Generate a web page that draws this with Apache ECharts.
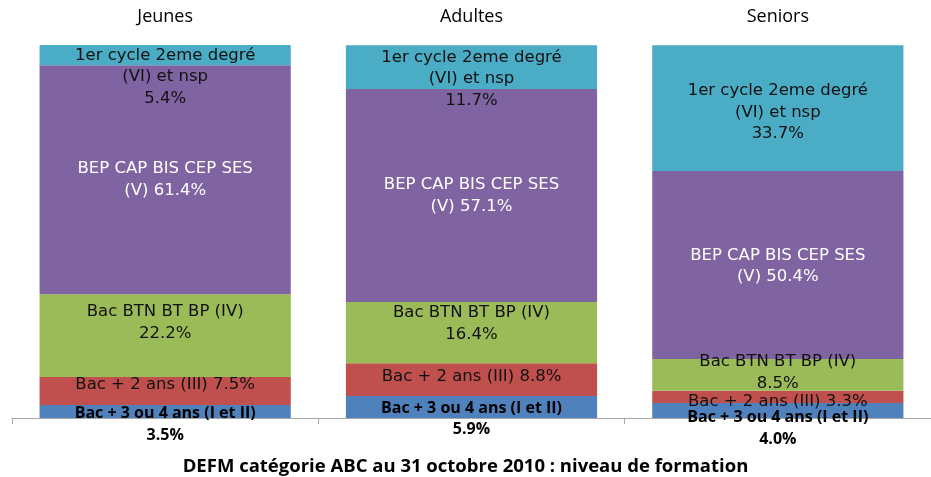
<!DOCTYPE html>
<html>
<head>
<meta charset="utf-8">
<script src="https://cdn.jsdelivr.net/npm/echarts@6/dist/echarts.min.js"></script>
<style>
  html, body { margin: 0; padding: 0; background: #fff; }
  #main { width: 931px; height: 477px; }
</style>
</head>
<body>
<div id="main"></div>
<script>
// groupes d'age
var categories = ['Jeunes', 'Adultes', 'Seniors'];

// niveaux de formation (du bas vers le haut), en %
var bac34 = [3.5, 5.9, 4.0];
var bac2 = [7.5, 8.8, 3.3];
var bacIV = [22.2, 16.4, 8.5];
var bepV = [61.4, 57.1, 50.4];
var cycleVI = [5.4, 11.7, 33.7];

var titleText = 'DEFM catégorie ABC au 31 octobre 2010 : niveau de formation';

// decalage vertical des etiquettes (comme dans Excel)
var labelShift = {
  bac34: [13, 12, 18],
  bac2: [-6, -3, 5],
  bacIV: [-13, -9, -2],
  bepV: [0, 0, 1],
  cycleVI: [22, 12, 4]
};

var FONT = 'Open Sans';
var LABEL_FONT = 'DejaVu Sans';

function fmt(v) { return v.toFixed(1) + '%'; }

function makeData(values, shifts) {
  return values.map(function (v, i) {
    return { value: v, label: { offset: [0, shifts[i]] } };
  });
}

function serie(name, values, shifts, color, textColor, formatter, bold) {
  return {
    name: name,
    type: 'bar',
    stack: 'total',
    xAxisIndex: 0,
    barCategoryGap: '18%',
    itemStyle: { color: color },
    label: {
      show: true,
      position: 'inside',
      color: textColor,
      fontFamily: bold ? FONT : LABEL_FONT,
      fontSize: bold ? 16 : 16.5,
      fontWeight: bold ? 'bold' : 'normal',
      lineHeight: 21.5,
      formatter: function (p) { return formatter(p.value); }
    },
    data: makeData(values, shifts)
  };
}

var myChart = echarts.init(document.getElementById('main'));
myChart.setOption({
  animation: false,
  title: {
    text: titleText,
    left: 'center',
    top: 452,
    textStyle: { fontFamily: FONT, fontSize: 18.5, fontWeight: 'bold', color: '#000' }
  },
  grid: { left: 12, width: 924, top: 45, bottom: 59 },
  xAxis: [
    {
      type: 'category',
      position: 'top',
      data: categories,
      axisLine: { show: false },
      axisTick: { show: false },
      axisLabel: { margin: 19, fontFamily: FONT, fontSize: 18, color: '#000' }
    },
    {
      type: 'category',
      position: 'bottom',
      data: categories,
      axisLine: { show: true, lineStyle: { color: '#a6a6a6', width: 1 } },
      axisTick: { show: true, length: 6, lineStyle: { color: '#a6a6a6' } },
      axisLabel: { show: false }
    }
  ],
  yAxis: { type: 'value', min: 0, max: 100, show: false },
  series: [
    serie('Bac + 3 ou 4 ans (I et II)', bac34, labelShift.bac34, '#4F81BD', '#000',
      function (v) { return 'Bac + 3 ou 4 ans (I et II)\n' + fmt(v); }, true),
    serie('Bac + 2 ans (III)', bac2, labelShift.bac2, '#C0504D', '#111',
      function (v) { return 'Bac + 2 ans (III) ' + fmt(v); }),
    serie('Bac BTN BT BP (IV)', bacIV, labelShift.bacIV, '#9BBB59', '#111',
      function (v) { return 'Bac BTN BT BP (IV)\n' + fmt(v); }),
    serie('BEP CAP BIS CEP SES (V)', bepV, labelShift.bepV, '#8064A2', '#fff',
      function (v) { return 'BEP CAP BIS CEP SES\n(V) ' + fmt(v); }),
    serie('1er cycle 2eme degré (VI) et nsp', cycleVI, labelShift.cycleVI, '#4BACC6', '#111',
      function (v) { return '1er cycle 2eme degré\n(VI) et nsp\n' + fmt(v); })
  ]
});
</script>
</body>
</html>
